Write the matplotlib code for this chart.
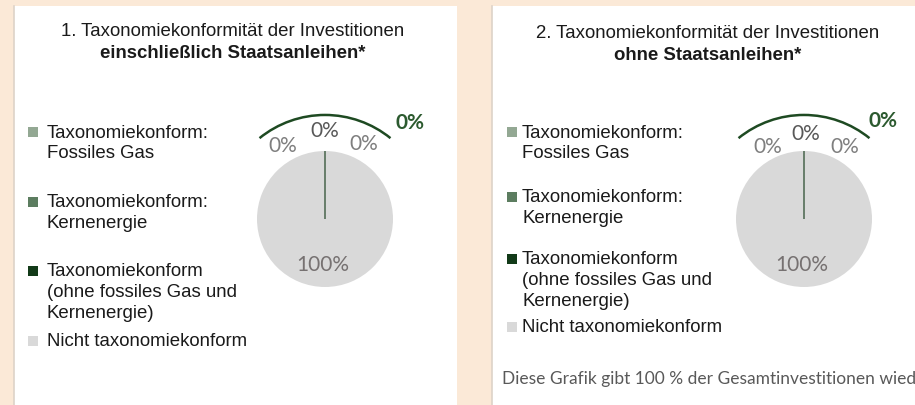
import matplotlib
matplotlib.use("Agg")
import matplotlib.pyplot as plt
from matplotlib.patches import Rectangle, Arc

# categories and shares (in %)
categories = [
    "Taxonomiekonform:\nFossiles Gas",
    "Taxonomiekonform:\nKernenergie",
    "Taxonomiekonform\n(ohne fossiles Gas und\nKernenergie)",
    "Nicht taxonomiekonform",
]
share_incl_bonds = [0, 0, 0, 100]
share_excl_bonds = [0, 0, 0, 100]
colors = ["#93a893", "#5c7d60", "#123a18", "#d9d9d9"]

titles = [
    ("1. Taxonomiekonformität der Investitionen", "einschließlich Staatsanleihen*"),
    ("2. Taxonomiekonformität der Investitionen", "ohne Staatsanleihen*"),
]
footnote = "Diese Grafik gibt 100 % der Gesamtinvestitionen wieder."

W, H = 915, 406
BG = "#fbe9d7"
ARIAL = "Liberation Sans"
CALIBRI = "Lato"


def fx(x):
    return x / W


def fy(y):
    return 1 - y / H


fig = plt.figure(figsize=(W / 100, H / 100), dpi=100)
fig.patch.set_facecolor(BG)

# white panels
for x0, x1 in [(14, 457), (492, 915)]:
    fig.add_artist(Rectangle((fx(x0), 0), fx(x1 - x0), fy(7), transform=fig.transFigure,
                             facecolor="white", edgecolor="none", zorder=0))
    fig.add_artist(plt.Line2D([fx(x0 - 0.5)] * 2, [0, fy(7)], transform=fig.transFigure,
                              color="#ddd3c8", lw=1.2, zorder=0))

panels = [
    dict(values=share_incl_bonds, title=titles[0], tx=233, ty=(32, 53),
         mx=28, lx=47, ly=[133, 203, 272, 342], cx=325, cy=220,
         lab=[(-0.62, 1.09), (0.0, 1.31), (0.57, 1.12)], big=(1.25, 1.43)),
    dict(values=share_excl_bonds, title=titles[1], tx=708, ty=(34, 56),
         mx=507, lx=522, ly=[133, 198, 260, 328], cx=804, cy=220,
         lab=[(-0.54, 1.07), (0.03, 1.26), (0.6, 1.07)], big=(1.16, 1.46)),
]

FS = 13.4
PITCH = 21
R = 68

for p in panels:
    fig.text(fx(p["tx"]), fy(p["ty"][0]), p["title"][0], ha="center", va="center",
             fontsize=FS, family=ARIAL, color="#1a1a1a")
    fig.text(fx(p["tx"]), fy(p["ty"][1]), p["title"][1], ha="center", va="center",
             fontsize=FS, family=ARIAL, color="#1a1a1a", fontweight="bold")

    # legend
    for cat, col, y in zip(categories, colors, p["ly"]):
        fig.add_artist(Rectangle((fx(p["mx"]), fy(y + 5)), fx(10), 10 / H,
                                 transform=fig.transFigure, facecolor=col, edgecolor="none"))
        for i, line in enumerate(cat.split("\n")):
            fig.text(fx(p["lx"]), fy(y + i * PITCH), line, ha="left", va="center",
                     fontsize=FS, family=ARIAL, color="#1a1a1a")

    # pie
    ax = fig.add_axes([fx(p["cx"] - 2 * R), fy(p["cy"] + 2 * R), 4 * R / W, 4 * R / H])
    wedges, _ = ax.pie(p["values"], colors=colors, startangle=90, counterclock=False,
                       radius=1)
    for w, v, col in zip(wedges, p["values"], colors):
        if v == 0:
            # empty slices still show up as a hairline edge
            w.set_edgecolor("#4f6b52")
            w.set_linewidth(0.6)
            w.set_zorder(3)
        else:
            w.set_edgecolor("none")
    ax.set_xlim(-2, 2)
    ax.set_ylim(-2, 2)
    ax.set_aspect("equal")
    ax.axis("off")

    # arc spanning the taxonomy-aligned part
    ax.add_patch(Arc((0, 0), 2 * 1.53, 2 * 1.53, theta1=51, theta2=129,
                     color="#1e4a22", lw=1.8, clip_on=False))

    lab_colors = ["#7f7f7f", "#595959", "#7f7f7f"]
    for (x, y), v, c in zip(p["lab"], p["values"][:3], lab_colors):
        ax.text(x, y, f"{v:.0f}%", ha="center", va="center", fontsize=15,
                family=CALIBRI, color=c, clip_on=False)
    aligned = sum(p["values"][:3])
    ax.text(p["big"][0], p["big"][1], f"{aligned:.0f}%", ha="center", va="center",
            fontsize=15, family=CALIBRI, color="#2c5a2f", fontweight="bold", clip_on=False)
    ax.text(-0.03, -0.66, f"{p['values'][3]:.0f}%", ha="center", va="center",
            fontsize=15, family=CALIBRI, color="#767171")

fig.text(fx(502), fy(379), footnote, ha="left", va="center", fontsize=12.5,
         family=CALIBRI, color="#595959")

fig.savefig("out.png", dpi=100, facecolor=BG)
